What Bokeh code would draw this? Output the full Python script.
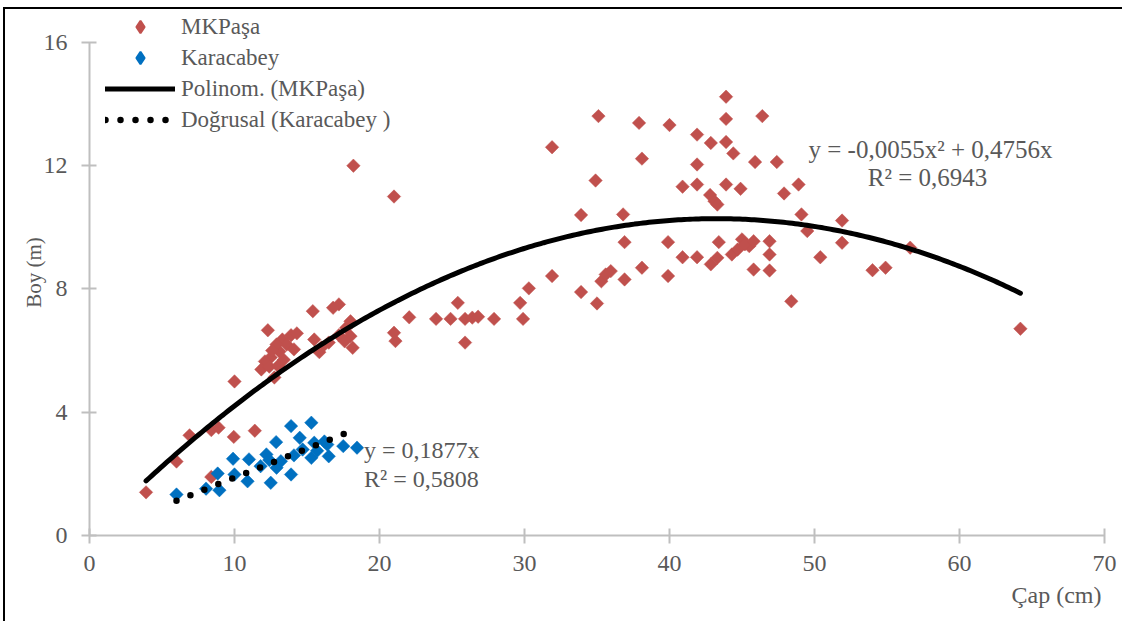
import numpy as np
from bokeh.plotting import figure
from bokeh.models import Range1d, Legend, LegendItem, Label, FixedTicker, ColumnDataSource, Title
from bokeh.embed import file_html
from bokeh.resources import INLINE

# ---------------- data ----------------
mk_x = [3.9, 6.0, 6.9, 8.4, 8.9, 8.4, 9.95, 11.4, 10.0,
        12.3, 13.3, 13.9, 14.3, 13.6, 13.1, 12.5, 12.1, 11.85, 12.75, 12.4, 13.4, 14.1, 12.9, 13.0, 12.6,
        15.4, 17.2, 16.8, 15.5, 15.85, 16.0, 17.7, 18.0, 18.0, 18.15, 17.2, 17.6, 16.5,
        18.2, 21.0,
        21.0, 21.1, 22.05, 23.9, 24.9, 25.4, 25.9, 26.4, 26.8, 25.9, 27.9, 29.7, 29.9, 30.3,
        31.9, 31.9, 33.9, 33.9, 35.0, 35.1, 34.9, 35.3, 35.6, 35.95, 36.8, 36.9, 36.9, 37.9, 38.1, 38.1,
        39.9, 39.9, 40.0,
        40.9, 40.9, 41.9, 41.9, 41.9, 41.9, 42.85, 42.8, 43.1, 43.3, 42.85, 43.3, 43.4, 43.9, 43.9, 43.9,
        43.9, 44.4, 44.9, 44.3, 44.7, 45.0, 45.5, 45.2, 45.8, 45.8, 45.9, 46.4, 46.9, 46.9, 46.9, 47.4,
        47.9, 48.4, 48.9, 49.1, 49.5,
        50.4, 51.9, 51.9, 54.0, 54.9, 56.6, 64.2]
mk_y = [1.4, 2.4, 3.25, 3.42, 3.5, 1.9, 3.2, 3.4, 5.0,
        6.66, 6.36, 6.5, 6.56, 6.2, 5.97, 5.78, 5.65, 5.39, 5.13, 5.48, 5.7, 6.04, 6.2, 5.5, 6.0,
        7.28, 7.5, 7.39, 6.36, 5.95, 6.1, 6.74, 6.95, 6.47, 6.09, 6.5, 6.3, 6.26,
        12.0, 11.0,
        6.58, 6.31, 7.08, 7.03, 7.03, 7.55, 7.03, 7.07, 7.1, 6.26, 7.03, 7.55, 7.03, 8.02,
        12.6, 8.42, 10.4, 7.9, 7.53, 13.61, 11.52, 8.25, 8.47, 8.58, 10.42, 9.52, 8.31, 13.39, 12.23, 8.69,
        9.52, 8.42, 13.32,
        11.32, 9.03, 13.01, 12.04, 11.39, 9.03, 12.74, 11.05, 10.85, 10.74, 8.8, 9.01, 9.52, 14.24, 13.52, 12.77,
        11.39, 12.4, 11.25, 9.12, 9.28, 9.61, 9.39, 9.45, 9.55, 8.63, 12.12, 13.61, 9.55, 9.12, 8.6, 12.12,
        11.1, 7.6, 11.39, 10.42, 9.88,
        9.03, 10.22, 9.5, 8.61, 8.69, 9.34, 6.71]

kb_x = [6.0, 8.04, 8.84, 8.96, 9.9, 10.0, 11.0, 10.9, 11.8, 12.2, 12.5, 12.87, 13.2, 12.9, 13.9,
        13.9, 14.1, 14.5, 14.7, 15.3, 15.3, 15.5, 15.7, 16.2, 16.5, 16.4, 17.5, 18.45, 12.4]
kb_y = [1.33, 1.52, 2.01, 1.47, 2.49, 1.98, 2.47, 1.76, 2.25, 2.63, 1.71, 3.03, 2.41, 2.2, 3.55,
        1.98, 2.6, 3.17, 2.79, 3.66, 2.52, 3.01, 2.75, 3.05, 2.57, 2.95, 2.9, 2.85, 2.45]

# trendline coefficients as printed on the chart
poly_coef = [-0.0055, 0.4756, 0.0]
lin_coef = [0.1877, 0.0]

x_ticks = [0, 10, 20, 30, 40, 50, 60, 70]
y_ticks = [0, 4, 8, 12, 16]

series_names = ["MKPaşa", "Karacabey", "Polinom. (MKPaşa)", "Doğrusal (Karacabey )"]
eq_mk = ["y = -0,0055x² + 0,4756x", "R² = 0,6943"]
eq_kb = ["y = 0,1877x", "R² = 0,5808"]

FONT = "Liberation Serif"
GRAY = "#595959"
RED = "#C0504D"
BLUE = "#0070C0"
AXIS = "#BFBFBF"

p = figure(frame_width=1015, frame_height=526, output_backend="svg", toolbar_location=None,
           x_range=Range1d(0, 70), y_range=Range1d(0, 17.07),
           min_border_left=84, min_border_right=18, min_border_top=0, min_border_bottom=86)
p.styles = {"border-left": "2px solid #000", "border-top": "2px solid #000",
            "margin-left": "3px", "margin-top": "7px"}
p.outline_line_color = None
p.grid.visible = False
p.background_fill_color = "white"
p.border_fill_color = "white"

for ax in (p.xaxis[0], p.yaxis[0]):
    ax.axis_line_color = AXIS
    ax.axis_line_width = 2
    ax.major_tick_line_color = AXIS
    ax.major_tick_line_width = 2
    ax.major_tick_in = 7
    ax.major_tick_out = 8
    ax.minor_tick_line_color = None
    ax.major_label_text_font = FONT
    ax.major_label_text_font_size = "24px"
    ax.major_label_text_color = GRAY
    ax.axis_label_text_font = FONT
    ax.axis_label_text_font_size = "21px"
    ax.axis_label_text_color = GRAY
    ax.axis_label_text_font_style = "normal"

p.xaxis.ticker = FixedTicker(ticks=x_ticks)
p.yaxis.ticker = FixedTicker(ticks=y_ticks)
p.yaxis.bounds = (y_ticks[0], y_ticks[-1])
p.xaxis.major_label_standoff = 12
p.yaxis.major_label_standoff = 14
p.yaxis.axis_label = "Boy (m)"
p.yaxis.axis_label_standoff = -5

xt = Title(text="Çap (cm)", align="right", text_font=FONT, text_font_size="24px",
           text_color=GRAY, text_font_style="normal", offset=3, standoff=13)
p.add_layout(xt, "below")

src_mk = ColumnDataSource(dict(x=mk_x, y=mk_y))
src_kb = ColumnDataSource(dict(x=kb_x, y=kb_y))

r_mk = p.scatter("x", "y", source=src_mk, marker="square", size=9.5, angle=np.pi / 4,
                 fill_color=RED, line_color=RED, line_width=0.5)
r_kb = p.scatter("x", "y", source=src_kb, marker="square", size=9.5, angle=np.pi / 4,
                 fill_color=BLUE, line_color=BLUE, line_width=0.5)

px = np.linspace(min(mk_x), max(mk_x), 300)
py = np.polyval(poly_coef, px)
r_poly = p.line(px, py, line_color="black", line_width=5, line_cap="round")

lx = np.linspace(min(kb_x), max(kb_x), 100)
ly = np.polyval(lin_coef, lx)
r_lin = p.line(lx, ly, line_color="black", line_width=6.5, line_dash="0 15", line_cap="round")

# legend swatches (diamond shaped, like the reference legend); NaN -> nothing drawn in the plot
swatch = ColumnDataSource(dict(x=[np.nan], y=[np.nan]))
lg_mk = p.scatter("x", "y", source=swatch, marker="diamond", fill_color=RED, line_color=RED, line_width=2)
lg_kb = p.scatter("x", "y", source=swatch, marker="diamond", fill_color=BLUE, line_color=BLUE, line_width=2)

legend = Legend(items=[LegendItem(label=series_names[0], renderers=[lg_mk]),
                       LegendItem(label=series_names[1], renderers=[lg_kb]),
                       LegendItem(label=series_names[2], renderers=[r_poly]),
                       LegendItem(label=series_names[3], renderers=[r_lin])],
                location=(16, 400), orientation="vertical",
                glyph_width=70, glyph_height=31, label_height=31, spacing=0, padding=0, margin=0,
                label_standoff=6, label_text_font=FONT, label_text_font_size="23px",
                label_text_color=GRAY, border_line_color=None, background_fill_alpha=0)
p.add_layout(legend, "center")

def add_label(x, y, text, align="left", size="25px"):
    p.add_layout(Label(x=x, y=y, text=text, text_font=FONT, text_font_size=size,
                       text_color=GRAY, text_baseline="middle", text_align=align))

add_label(58.0, 12.53, eq_mk[0], "center")
add_label(57.8, 11.62, eq_mk[1], "center")
add_label(18.93, 2.79, eq_kb[0], size="24px")
add_label(18.93, 1.82, eq_kb[1], size="24px")

open("out.html", "w").write(file_html(p, INLINE))
